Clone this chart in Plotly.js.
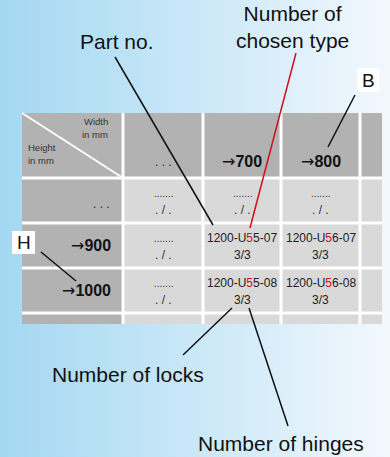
<!DOCTYPE html>
<html><head><meta charset="utf-8">
<script src="https://cdn.plot.ly/plotly-3.0.1.min.js"></script>
<style>
html,body{margin:0;padding:0;}
#chart{width:390px;height:457px;background:linear-gradient(to right,#a4d8f2 0%,#c6e6f7 45%,#f2f8fd 100%);}
</style></head>
<body><div id="chart"></div>
<script>
// ---- data ----
const widthLabels = ['. . .', '700', '800', ''];
const heightLabels = ['. . .', '900', '1000', ''];
const arrow = '→';
const partPrefix = '1200-U';
const chosenType = '5';
const widthCodes = ['5', '6'];          // for →700, →800
const heightCodes = ['07', '08'];       // for →900, →1000
const locksHinges = [['3/3', '3/3'], ['3/3', '3/3']];
const placeholderTop = '.......';
const placeholderBottom = '. / .';
const callouts = ['Part no.', 'Number of<br>chosen type', 'B', 'H', 'Number of locks', 'Number of hinges'];

// ---- layout geometry ----
const colEdges = [22, 123, 203, 281, 360, 382];
const rowEdges = [113, 178, 223, 268, 313, 324];
const DARK = '#b2b2b2', LIGHT = '#d9d9d9', RED = '#d0101b';
const FONT = 'Liberation Sans, Arial, sans-serif';
const arrowHtml = '<span style="font-family:DejaVu Sans">' + arrow + '</span>';

const shapes = [];
const annotations = [];
shapes.push({type:'rect', xref:'x', yref:'y', x0:colEdges[0], x1:colEdges[colEdges.length-1], y0:rowEdges[0], y1:rowEdges[rowEdges.length-1], fillcolor:'#ffffff', line:{width:0}, layer:'below'});
for (let r = 0; r < rowEdges.length-1; r++) {
  for (let c = 0; c < colEdges.length-1; c++) {
    const x0 = colEdges[c] + (c>0?1.5:0), x1 = colEdges[c+1] - (c<colEdges.length-2?1.5:0);
    const y0 = rowEdges[r] + (r>0?1.5:0), y1 = rowEdges[r+1] - (r<rowEdges.length-2?1.5:0);
    const col = (r===0 || c===0) ? DARK : LIGHT;
    shapes.push({type:'rect', xref:'x', yref:'y', x0, x1, y0, y1, fillcolor:col, line:{width:0}, layer:'below'});
  }
}
shapes.push({type:'line', xref:'x', yref:'y', x0:colEdges[0], y0:rowEdges[0], x1:colEdges[1], y1:rowEdges[1], line:{color:'#ffffff', width:2}});

function ann(text, x, y, opts) {
  annotations.push(Object.assign({xref:'x', yref:'y', x, y, text, showarrow:false, font:{family:FONT, size:12, color:'#222'}, xanchor:'center', yanchor:'middle'}, opts||{}));
}
ann('Width', 110, 121, {xanchor:'right', font:{family:FONT, size:9.5, color:'#333'}});
ann('in mm', 110, 134, {xanchor:'right', font:{family:FONT, size:9.5, color:'#333'}});
ann('Height', 26, 147, {xanchor:'left', font:{family:FONT, size:9.5, color:'#333'}});
ann('in mm', 26, 160, {xanchor:'left', font:{family:FONT, size:9.5, color:'#333'}});

widthLabels.forEach((t, i) => {
  if (!t) return;
  const cx = (colEdges[i+1] + colEdges[i+2]) / 2;
  if (i === 0) ann(t, cx, 162, {font:{family:FONT, size:12, color:'#222'}});
  else ann(arrowHtml + '<b>' + t + '</b>', cx, 161, {font:{family:FONT, size:16, color:'#111'}});
});
heightLabels.forEach((t, i) => {
  if (!t) return;
  const cy = (rowEdges[i+1] + rowEdges[i+2]) / 2;
  if (i === 0) ann(t, 112, cy + 3, {xanchor:'right', font:{family:FONT, size:12, color:'#222'}});
  else ann(arrowHtml + '<b>' + t + '</b>', 113, cy, {xanchor:'right', font:{family:FONT, size:16, color:'#111'}});
});
for (let r = 0; r < 3; r++) {
  for (let c = 0; c < 3; c++) {
    const cx = (colEdges[c+1] + colEdges[c+2]) / 2;
    const cy = (rowEdges[r+1] + rowEdges[r+2]) / 2;
    if (r === 0 || c === 0) {
      ann(placeholderTop, cx, cy - 7, {font:{family:FONT, size:10, color:'#333'}});
      ann(placeholderBottom, cx, cy + 9, {font:{family:FONT, size:12, color:'#333'}});
    } else {
      const t = partPrefix + '<span style="color:' + RED + '">' + chosenType + '</span>' + widthCodes[c-1] + '-' + heightCodes[r-1];
      ann(t, cx, cy - 8, {font:{family:FONT, size:12, color:'#222'}});
      ann(locksHinges[r-1][c-1], cx, cy + 9, {font:{family:FONT, size:12, color:'#222'}});
    }
  }
}

ann(callouts[0], 117, 41, {font:{family:FONT, size:21, color:'#111'}});
ann(callouts[1], 292, 27, {font:{family:FONT, size:21, color:'#111'}});
shapes.push({type:'rect', xref:'x', yref:'y', x0:357, x1:379, y0:68, y1:92, fillcolor:'#ffffff', line:{width:0}});
ann(callouts[2], 368, 80, {font:{family:FONT, size:19, color:'#111'}});
shapes.push({type:'rect', xref:'x', yref:'y', x0:12, x1:35, y0:231, y1:254, fillcolor:'#ffffff', line:{width:0}});
ann(callouts[3], 23.5, 242.5, {font:{family:FONT, size:19, color:'#111'}});
ann(callouts[4], 128, 374, {font:{family:FONT, size:21, color:'#111'}});
ann(callouts[5], 281, 443, {font:{family:FONT, size:21, color:'#111'}});

const lead = (x0,y0,x1,y1,color) => shapes.push({type:'line', xref:'x', yref:'y', x0,y0,x1,y1, line:{color:color||'#111', width:1.5}});
lead(115, 57, 213, 225);
lead(296, 53, 250, 228, RED);
lead(355, 95, 328, 147);
lead(41, 252, 76, 281);
lead(183, 355, 232, 308);
lead(288, 426, 249, 308);

Plotly.newPlot('chart', [{x:[], y:[], type:'scatter', mode:'markers', hoverinfo:'skip'}], {
  width:390, height:457,
  margin:{l:0, r:0, t:0, b:0},
  paper_bgcolor:'rgba(0,0,0,0)', plot_bgcolor:'rgba(0,0,0,0)',
  xaxis:{range:[0,390], visible:false, fixedrange:true},
  yaxis:{range:[457,0], visible:false, fixedrange:true},
  showlegend:false,
  shapes, annotations
}, {displayModeBar:false, staticPlot:true});
</script></body></html>
